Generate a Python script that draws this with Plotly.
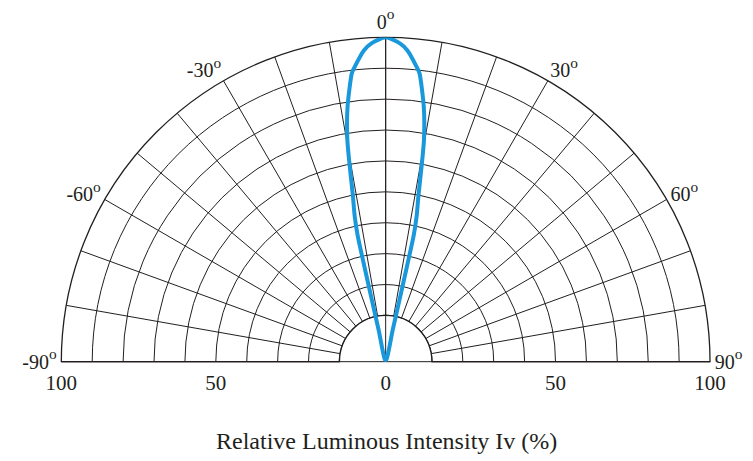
import plotly.graph_objects as go

# Radiation pattern (right half; mirrored for left half)
half_theta = [12.5, 12.5, 12.6, 12.6, 12.5, 12.0, 11.2, 10.35, 9.8, 8.5, 6.7, 6.0, 4.0, 2.5, 0.0]
half_r =     [0.0, 10.0, 20.0, 30.0, 40.0, 46.0, 51.9, 62.2, 69.4, 79.5, 89.5, 91.4, 96.2, 98.3, 100.0]

curve_theta = [-t for t in half_theta] + list(reversed(half_theta[:-1]))
curve_r = list(half_r) + list(reversed(half_r[:-1]))

angle_ticks = list(range(-90, 91, 10))
angle_labels = [f"{a}<span style='font-size:22px'><sup>o</sup></span>" if a % 30 == 0 else ""
                for a in angle_ticks]
radial_grid = [10, 20, 30, 40, 50, 60, 70, 80, 90, 100]
base_tick_vals = [-100, -50, 0, 50, 100]
base_tick_text = ["100", "50", "0", "50", "100"]

HOLE = 0.1425
RMIN = 10

def radial_frac(v):
    if v == 0:
        return 0.0
    return HOLE + (1 - HOLE) * (abs(v) - RMIN) / (100 - RMIN)

INK = "#231f20"
BLUE = "#1a98dc"
FONT = "Liberation Serif"

# domains (page has an 8px body margin, compensated here)
dom_x = [0.0708, 0.9323]
dom_y = [0.2321, 0.9371]

fig = go.Figure()

# inner circle of the grid (r = 10)
fig.add_trace(go.Scatterpolar(
    r=[RMIN] * 181, theta=list(range(-90, 91)), mode="lines",
    line=dict(color=INK, width=1.3), hoverinfo="skip", showlegend=False,
    subplot="polar"))

# beam curve
fig.add_trace(go.Scatterpolar(
    r=curve_r, theta=curve_theta, mode="lines",
    line=dict(color=BLUE, width=4, shape="spline", smoothing=0.6),
    hoverinfo="skip", showlegend=False, subplot="polar2"))

# invisible trace for bottom label axis
fig.add_trace(go.Scatter(
    x=[radial_frac(v) * (1 if v >= 0 else -1) for v in base_tick_vals],
    y=[0] * len(base_tick_vals), mode="markers", marker=dict(opacity=0),
    hoverinfo="skip", showlegend=False, xaxis="x", yaxis="y"))

fig.update_layout(
    width=753, height=461,
    margin=dict(l=0, r=0, t=0, b=0, autoexpand=False),
    paper_bgcolor="white", plot_bgcolor="rgba(0,0,0,0)",
    showlegend=False,
    polar=dict(
        domain=dict(x=dom_x, y=dom_y),
        sector=[0, 180], hole=HOLE, bgcolor="white",
        radialaxis=dict(range=[RMIN, 100], tickmode="array", tickvals=radial_grid,
                        showticklabels=False, ticks="", showline=False,
                        showgrid=True, gridcolor=INK, gridwidth=1.3),
        angularaxis=dict(rotation=90, direction="clockwise", thetaunit="degrees",
                         tickmode="array", tickvals=angle_ticks, ticktext=angle_labels,
                         ticks="", showgrid=True, gridcolor=INK, gridwidth=1.3,
                         showline=True, linecolor=INK, linewidth=1.3,
                         tickfont=dict(family=FONT, size=20, color=INK)),
    ),
    polar2=dict(
        domain=dict(x=dom_x, y=dom_y),
        sector=[0, 180], bgcolor="rgba(0,0,0,0)",
        radialaxis=dict(range=[0, 100], visible=False),
        angularaxis=dict(rotation=90, direction="clockwise", thetaunit="degrees",
                         tickmode="array", tickvals=[-90, 0, 90], ticks="",
                         showticklabels=False, showline=False,
                         showgrid=True, gridcolor=INK, gridwidth=1.3),
    ),
    xaxis=dict(domain=dom_x, range=[-1, 1], anchor="free", position=dom_y[0],
               tickmode="array", automargin=False,
               tickvals=[radial_frac(v) * (1 if v >= 0 else -1) for v in base_tick_vals],
               ticktext=base_tick_text, ticks="", showline=False, showgrid=False,
               zeroline=False, ticklabelstandoff=6,
               tickfont=dict(family=FONT, size=21, color=INK), fixedrange=True),
    yaxis=dict(domain=[0, dom_y[0]], range=[0, 1], visible=False, fixedrange=True,
               automargin=False),
    annotations=[dict(text="Relative Luminous Intensity Iv (%)", xref="paper", yref="paper",
                      x=0.5033, y=0.0607, xanchor="center", yanchor="middle",
                      showarrow=False, font=dict(family=FONT, size=24, color=INK))],
)

fig.write_html("out.html")
